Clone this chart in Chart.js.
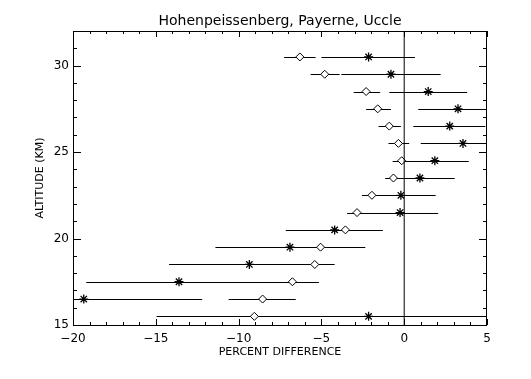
<!DOCTYPE html>
<html>
<head>
<meta charset="utf-8">
<script src="https://cdn.jsdelivr.net/npm/chart.js@4/dist/chart.umd.min.js"></script>
<style>
  body { margin: 0; background: #fff; }
  #wrap { width: 531px; height: 379px; }
</style>
</head>
<body>
<div id="wrap"><canvas id="chart" width="531" height="379"></canvas></div>
<script>
// Altitude levels (km), top to bottom
const altitudes = [30.5, 29.5, 28.5, 27.5, 26.5, 25.5, 24.5, 23.5, 22.5, 21.5, 20.5, 19.5, 18.5, 17.5, 16.5, 15.5];

// Diamond series with error range
const diamondVals = [-6.3, -4.8, -2.3, -1.6, -0.9, -0.35, -0.15, -0.65, -1.95, -2.85, -3.55, -5.05, -5.4, -6.75, -8.55, -9.05];
const diamondLo   = [-7.25, -5.65, -3.05, -2.3, -1.55, -0.95, -0.7, -1.15, -2.55, -3.45, -5.8, -7.75, -6.6, -8.3, -10.6, -9.6];
const diamondHi   = [-5.35, -3.9, -1.45, -0.8, -0.2, 0.3, 0.4, -0.15, -1.35, -2.25, -1.3, -2.35, -4.2, -5.15, -6.55, -8.5];

// Asterisk series with error range
const starVals = [-2.15, -0.8, 1.45, 3.25, 2.75, 3.55, 1.85, 0.95, -0.2, -0.25, -4.2, -6.9, -9.35, -13.6, -19.35, -2.15];
const starLo   = [-5.0, -3.8, -0.9, 0.85, 0.55, 1.0, -0.2, -1.1, -2.3, -2.55, -7.15, -11.4, -14.2, -19.2, -26.5, -14.95];
const starHi   = [0.65, 2.2, 3.8, 5.7, 4.9, 6.1, 3.9, 3.05, 1.9, 2.05, -1.3, -2.4, -4.55, -8.0, -12.2, 10.65];

// Axis ranges and labelled ticks
const xRange = [-20, 5];
const yRange = [15, 32];
const labelEvery = 5;

Chart.defaults.font.family = 'DejaVu Sans';
Chart.defaults.color = '#000';

function toPoints(xs) {
    return xs.map((v, i) => ({ x: v, y: altitudes[i] }));
}

function tickLabel(value) {
    return value % labelEvery === 0 ? String(value).replace('-', '\u2212') : '';
}

// horizontal error bars, drawn under the markers
const errorBars = {
    id: 'errorBars',
    beforeDatasetsDraw(chart) {
        const { ctx, chartArea: a, scales: { x, y } } = chart;
        ctx.save();
        ctx.beginPath();
        ctx.rect(a.left, a.top, a.width, a.height);
        ctx.clip();
        ctx.strokeStyle = '#000';
        ctx.lineWidth = 1;
        const bars = [[diamondLo, diamondHi], [starLo, starHi]];
        bars.forEach(([lo, hi]) => {
            altitudes.forEach((alt, i) => {
                const py = Math.round(y.getPixelForValue(alt)) + 0.5;
                ctx.beginPath();
                ctx.moveTo(x.getPixelForValue(lo[i]), py);
                ctx.lineTo(x.getPixelForValue(hi[i]), py);
                ctx.stroke();
            });
        });
        ctx.restore();
    }
};

// box frame with inward ticks on all sides
const frameTicks = {
    id: 'frameTicks',
    afterDraw(chart) {
        const { ctx, chartArea: a, scales: { x, y } } = chart;
        ctx.save();
        ctx.strokeStyle = '#000';
        ctx.lineWidth = 1;
        ctx.strokeRect(a.left + 0.5, a.top + 0.5, a.width - 1, a.height);
        ctx.beginPath();
        x.ticks.forEach(t => {
            const px = Math.round(x.getPixelForValue(t.value)) + 0.5;
            const len = t.value % labelEvery === 0 ? 6 : 3;
            ctx.moveTo(px, a.bottom); ctx.lineTo(px, a.bottom - len);
            ctx.moveTo(px, a.top); ctx.lineTo(px, a.top + len);
        });
        y.ticks.forEach(t => {
            const py = Math.round(y.getPixelForValue(t.value)) + 0.5;
            const len = t.value % labelEvery === 0 ? 8 : 4;
            ctx.moveTo(a.left, py); ctx.lineTo(a.left + len, py);
            ctx.moveTo(a.right, py); ctx.lineTo(a.right - len, py);
        });
        ctx.stroke();
        ctx.restore();
    }
};

new Chart(document.getElementById('chart'), {
    type: 'scatter',
    data: {
        datasets: [
            {
                type: 'line',
                data: [{ x: 0, y: yRange[0] }, { x: 0, y: yRange[1] }],
                borderColor: '#000',
                borderWidth: 1,
                pointRadius: 0
            },
            {
                data: toPoints(diamondVals),
                pointStyle: 'rectRot',
                pointRadius: 4,
                borderColor: '#000',
                backgroundColor: '#fff',
                borderWidth: 1
            },
            {
                data: toPoints(starVals),
                pointStyle: 'star',
                pointRadius: 4.5,
                borderColor: '#000',
                borderWidth: 1.3
            }
        ]
    },
    options: {
        responsive: false,
        animation: false,
        events: [],
        layout: { padding: { left: 0, right: 44, top: 0, bottom: 0 } },
        plugins: {
            legend: { display: false },
            tooltip: { enabled: false },
            title: {
                display: true,
                fullSize: false,
                text: 'Hohenpeissenberg, Payerne, Uccle',
                font: { size: 14, weight: 'normal', lineHeight: 1 },
                padding: { top: 14, bottom: 3 }
            }
        },
        scales: {
            x: {
                type: 'linear',
                min: xRange[0],
                max: xRange[1],
                grid: { display: false, drawTicks: false },
                border: { display: false },
                ticks: { stepSize: 1, autoSkip: false, maxRotation: 0, padding: 7, font: { size: 12 }, callback: tickLabel },
                title: {
                    display: true,
                    text: 'PERCENT DIFFERENCE',
                    font: { size: 11, lineHeight: 1 },
                    padding: { top: 0, bottom: 21 }
                },
                afterFit(scale) { scale.height = 54; }
            },
            y: {
                type: 'linear',
                min: yRange[0],
                max: yRange[1],
                grid: { display: false, drawTicks: false },
                border: { display: false },
                ticks: { stepSize: 1, autoSkip: false, padding: 4, font: { size: 12 }, callback: tickLabel },
                title: {
                    display: true,
                    text: 'ALTITUDE (KM)',
                    font: { size: 11, lineHeight: 1 },
                    padding: { top: 35, bottom: 0 }
                },
                afterFit(scale) { scale.width = 73; }
            }
        }
    },
    plugins: [errorBars, frameTicks]
});
</script>
</body>
</html>
